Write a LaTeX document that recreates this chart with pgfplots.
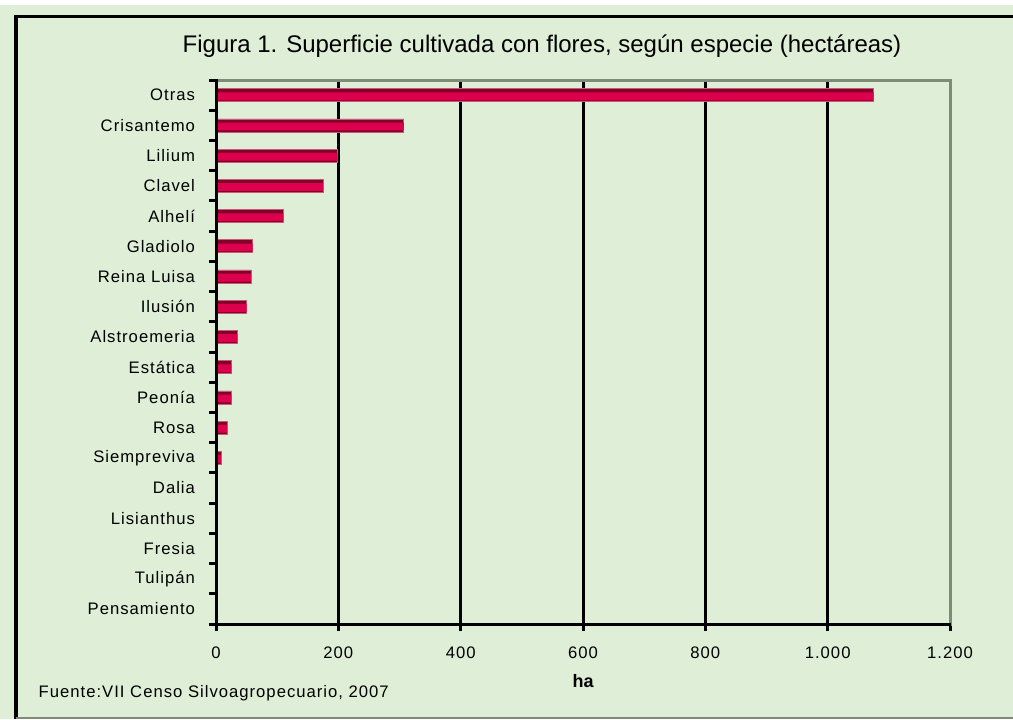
\documentclass[border=0pt]{standalone}
\usepackage{pgfplots}
\pgfplotsset{compat=1.18}
\usepackage{fontspec}
\setmainfont{Liberation Sans}
\definecolor{bg}{RGB}{223,238,215}
\definecolor{frameg}{RGB}{128,138,120}
\definecolor{bardark}{RGB}{130,0,42}
\definecolor{barmid}{RGB}{220,0,76}
\newcommand{\lblfont}{\fontsize{12.5}{14}\selectfont\addfontfeature{LetterSpace=6}}
\pgfplotstableread{
v y
1075 0
307 1
199 2
175 3
110 4
60 5
57 6
50 7
35 8
25 9
25 10
18 11
8 12
1 13
0.5 14
0.5 15
0.3 16
0.2 17
}\datatab
\usepackage{pgfplotstable}
\begin{document}
\begin{tikzpicture}[x=0.75pt,y=0.75pt]
\useasboundingbox (0,0) rectangle (1013,719);
\fill[white] (0,0) rectangle (1013,719);
\fill[bg] (0,0) rectangle (1013,714);
\draw[black, line width=2.6pt] (16,0) -- (16,702.5) -- (1013,702.5);
\draw[frameg, line width=1pt] (16,1) -- (1013,1);
\node[font=\fontsize{18}{21}\selectfont] at (542,673) {Figura 1. Superficie cultivada con flores, según especie (hectáreas)};
\begin{axis}[
  at={(162pt,71.25pt)}, anchor=south west, scale only axis,
  width=550.5pt, height=408pt,
  xbar,
  xmin=0, xmax=1200, ymin=-0.5, ymax=17.5, y dir=reverse,
  ytick={-0.5,0.5,...,17.5}, yticklabels={},
  extra y ticks={0,...,17},
  extra y tick labels={Otras,Crisantemo,Lilium,Clavel,Alhelí,Gladiolo,Reina Luisa,Ilusión,Alstroemeria,Estática,Peonía,Rosa,Siempreviva,Dalia,Lisianthus,Fresia,Tulipán,Pensamiento},
  extra y tick style={tick style={draw=none}},
  xtick={0,200,...,1200},
  xtick pos=bottom, ytick pos=left,
  tick align=outside, major tick length=5.25pt,
  tick style={black, line width=2.25pt},
  xmajorgrids, major grid style={black, line width=2.25pt},
  axis line style={frameg, line width=2.25pt},
  axis background/.style={fill=bg},
  /pgf/number format/assume math mode=true,
  /pgf/number format/1000 sep={.},
  ticklabel style={font=\lblfont},
  xticklabel style={yshift=-8pt},
  yticklabel style={xshift=-7pt},
]
\addplot[draw={rgb,255:red,200;green,90;blue,120}, line width=0.5pt, fill=bardark, bar width=0.43, bar shift=0] table[x=v, y=y] {\datatab};
\addplot[draw=none, fill=barmid, bar width=0.26, bar shift=0.04] table[x=v, y=y] {\datatab};
\end{axis}
\draw[frameg, line width=2.25pt] (950,640) -- (950,95);
\draw[black, line width=2.25pt] (216,640) -- (216,95) -- (951,95);
\node[font=\fontsize{13.5}{15}\selectfont\bfseries] at (583,38) {ha};
\node[font=\lblfont, anchor=west] at (34,26) {Fuente:VII Censo Silvoagropecuario, 2007};
\end{tikzpicture}
\end{document}
